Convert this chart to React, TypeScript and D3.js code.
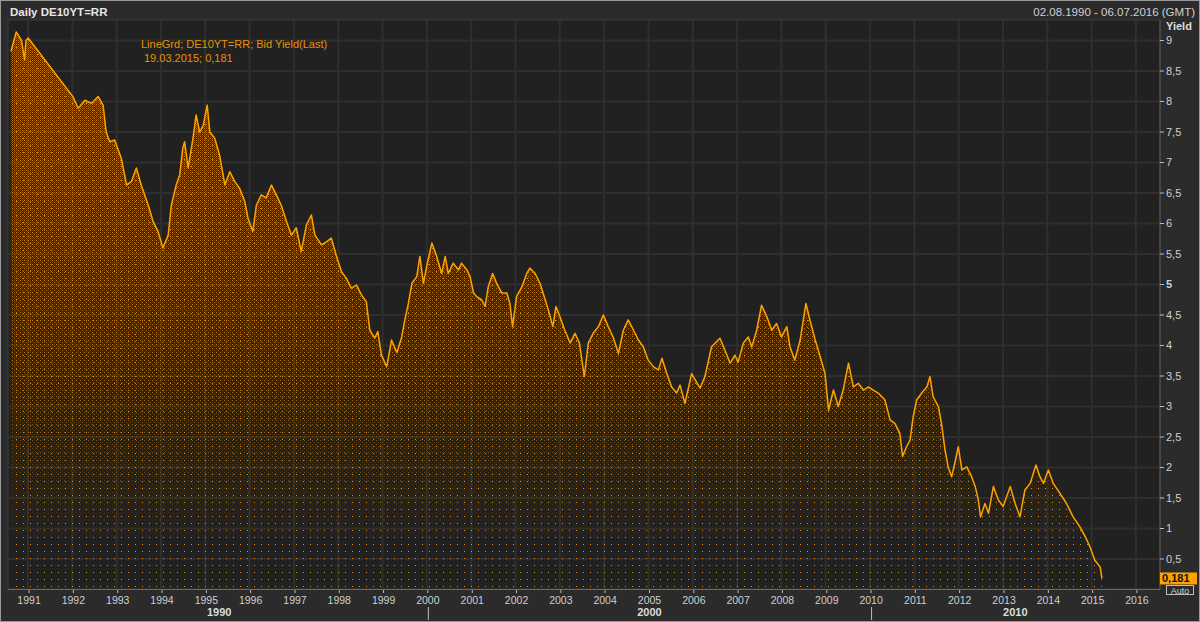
import React from "react";
import * as d3 from "d3";

// ---- data (decimal year, yield %) ----
const years: number[] = [
  1990.59, 1990.71, 1990.83, 1990.9, 1990.93, 1990.98,
  1991.99, 1992.11, 1992.26, 1992.41, 1992.56, 1992.67, 1992.74, 1992.82, 1992.93,
  1993.08, 1993.2, 1993.31, 1993.42, 1993.53, 1993.69, 1993.8, 1993.91,
  1994.02, 1994.14, 1994.21, 1994.32, 1994.4, 1994.47, 1994.51, 1994.59, 1994.7, 1994.77, 1994.85, 1994.93,
  1995.02, 1995.08, 1995.19, 1995.3, 1995.42, 1995.53, 1995.64, 1995.75, 1995.87, 1995.94,
  1996.05, 1996.13, 1996.24, 1996.35, 1996.47, 1996.58, 1996.69, 1996.81, 1996.92,
  1997.03, 1997.14, 1997.26, 1997.37, 1997.45, 1997.6, 1997.71, 1997.82, 1997.93,
  1998.05, 1998.16, 1998.27, 1998.39, 1998.5, 1998.61, 1998.69, 1998.8, 1998.87, 1998.95,
  1999.07, 1999.18, 1999.3, 1999.41, 1999.48, 1999.56, 1999.64, 1999.75, 1999.82, 1999.9, 1999.97,
  2000.09, 2000.2, 2000.31, 2000.39, 2000.46, 2000.57, 2000.69, 2000.76, 2000.88, 2000.95,
  2001.03, 2001.1, 2001.21, 2001.29, 2001.36, 2001.46, 2001.55, 2001.67, 2001.78, 2001.85, 2001.91,
  2002.0, 2002.12, 2002.23, 2002.3, 2002.42, 2002.53, 2002.6, 2002.72, 2002.82, 2002.89, 2002.98,
  2003.09, 2003.21, 2003.32, 2003.42, 2003.53, 2003.62, 2003.73, 2003.85, 2003.96,
  2004.07, 2004.18, 2004.3, 2004.41, 2004.52, 2004.64, 2004.75, 2004.86, 2004.97,
  2005.09, 2005.2, 2005.28, 2005.39, 2005.5, 2005.61, 2005.69, 2005.8, 2005.95,
  2006.14, 2006.25, 2006.4, 2006.59, 2006.7, 2006.82, 2006.93,
  2007.0, 2007.12, 2007.23, 2007.31, 2007.42, 2007.53, 2007.65, 2007.76, 2007.87, 2007.98,
  2008.1, 2008.17, 2008.28, 2008.4, 2008.53, 2008.62, 2008.74, 2008.85, 2008.96,
  2009.04, 2009.15, 2009.26, 2009.37, 2009.49, 2009.6, 2009.71, 2009.83, 2009.94,
  2010.05, 2010.16, 2010.31, 2010.43, 2010.54, 2010.65, 2010.71, 2010.8, 2010.88, 2010.95,
  2011.03, 2011.14, 2011.26, 2011.33, 2011.4, 2011.52, 2011.59, 2011.67, 2011.74, 2011.82, 2011.89, 2011.97,
  2012.05, 2012.16, 2012.27, 2012.35, 2012.42, 2012.47, 2012.57, 2012.65, 2012.76, 2012.87, 2012.98,
  2013.14, 2013.25, 2013.36, 2013.47, 2013.59, 2013.72, 2013.81, 2013.89,
  2014.0, 2014.11, 2014.26, 2014.41, 2014.56, 2014.71, 2014.83, 2014.94,
  2015.05, 2015.17, 2015.21,
];
const yields: number[] = [
  8.82, 9.14, 9.0, 8.68, 9.0, 9.04,
  8.08, 7.89, 8.02, 7.97, 8.08, 7.94, 7.5, 7.34, 7.37,
  7.07, 6.63, 6.69, 6.91, 6.63, 6.3, 6.03, 5.87,
  5.6, 5.81, 6.3, 6.63, 6.8, 7.24, 7.34, 6.91, 7.4, 7.78, 7.5, 7.61,
  7.94, 7.5, 7.4, 7.12, 6.63, 6.85, 6.69, 6.58, 6.36, 6.09,
  5.87, 6.3, 6.47, 6.42, 6.63, 6.47, 6.3, 6.03, 5.81,
  5.93, 5.54, 5.98, 6.14, 5.81, 5.65, 5.7, 5.76, 5.48,
  5.21, 5.1, 4.94, 4.99, 4.83, 4.72, 4.25, 4.12, 4.23, 3.85,
  3.65, 4.09, 3.88, 4.14, 4.42, 4.69, 5.02, 5.13, 5.46, 5.02, 5.29,
  5.68, 5.46, 5.18, 5.46, 5.18, 5.35, 5.24, 5.35, 5.24, 5.13,
  4.86, 4.8, 4.75, 4.64, 4.96, 5.18, 5.02, 4.86, 4.86, 4.69, 4.31,
  4.8, 4.96, 5.18, 5.27, 5.18, 5.02, 4.86, 4.58, 4.31, 4.64, 4.47,
  4.25, 4.04, 4.2, 4.04, 3.49, 4.04, 4.2, 4.31, 4.5,
  4.31, 4.14, 3.87, 4.25, 4.42, 4.25, 4.09, 3.98, 3.76,
  3.65, 3.6, 3.79, 3.54, 3.32, 3.22, 3.35, 3.05, 3.54,
  3.3, 3.49, 3.98, 4.12, 3.93, 3.71, 3.84,
  3.73, 4.04, 4.14, 3.98, 4.25, 4.66, 4.47, 4.25, 4.36, 4.14,
  4.31, 3.98, 3.76, 4.09, 4.69, 4.42, 4.09, 3.82, 3.54,
  2.94, 3.27, 3.0, 3.27, 3.71, 3.32, 3.38, 3.27, 3.32,
  3.27, 3.22, 3.11, 2.78, 2.72, 2.56, 2.18, 2.34, 2.45, 2.83,
  3.11, 3.22, 3.32, 3.49, 3.16, 3.0, 2.72, 2.29, 2.01, 1.85, 2.07, 2.34,
  1.96, 2.01, 1.85, 1.69, 1.47, 1.19, 1.41, 1.25, 1.69, 1.47, 1.36,
  1.69, 1.41, 1.19, 1.63, 1.74, 2.04, 1.85, 1.74,
  1.96, 1.74, 1.58, 1.41, 1.19, 1.03, 0.87, 0.7,
  0.48, 0.37, 0.181,
];
const yTicks: number[] = [0.5, 1, 1.5, 2, 2.5, 3, 3.5, 4, 4.5, 5, 5.5, 6, 6.5, 7, 7.5, 8, 8.5, 9];
const decadeLabels: string[] = ["1990", "2000", "2010"];
const titleText = "Daily DE10YT=RR";
const rangeText = "02.08.1990 - 06.07.2016 (GMT)";
const legendLine1 = "LineGrd; DE10YT=RR; Bid Yield(Last)";
const legendLine2 = "19.03.2015; 0,181";
const lastLabel = "0,181";

const toDate = (t: number) => {
  const y = Math.floor(t);
  const a = new Date(y, 0, 1).getTime();
  const b = new Date(y + 1, 0, 1).getTime();
  return new Date(a + (t - y) * (b - a));
};
const fmt = (v: number) => String(v).replace(".", ",");

export default function App() {
  const W = 1200, H = 622;
  const left = 8, right = 1160, top = 20, bottom = 589;
  const x = d3.scaleTime().domain([new Date(1990, 7, 2), new Date(2016, 6, 6)]).range([10.6, 1159.6]);
  const y = d3.scaleLinear().domain([0, 9]).range([589.5, 40.5]);
  const data = years.map((t, i) => ({ d: toDate(t), v: yields[i] }));
  const line = d3.line<{ d: Date; v: number }>().x((p) => x(p.d)).y((p) => y(p.v));
  const area = d3.area<{ d: Date; v: number }>().x((p) => x(p.d)).y0(bottom).y1((p) => y(p.v));
  const yearTicks = d3.timeYear.range(new Date(1991, 0, 1), new Date(2017, 0, 1));
  const decadeBounds = [new Date(1990, 7, 2), new Date(2000, 0, 1), new Date(2010, 0, 1), new Date(2016, 6, 6)];
  const font = "'Liberation Sans', Arial, sans-serif";
  const lastV = yields[yields.length - 1];
  const areaPath = area(data) || "";

  return (
    <div style={{ position: "fixed", left: 0, top: 0 }}>
      <svg width={W} height={H} style={{ display: "block" }}>
        <defs>
          <pattern id="p2" width={2} height={2} patternUnits="userSpaceOnUse">
            <rect x={0} y={0} width={1} height={1} fill="#d88400" />
            <rect x={1} y={1} width={1} height={1} fill="#a86400" />
          </pattern>
          <pattern id="p4" width={4} height={4} patternUnits="userSpaceOnUse">
            <rect x={0} y={0} width={1} height={1} fill="#e08a00" />
            <rect x={2} y={2} width={1} height={1} fill="#b06800" />
          </pattern>
          <pattern id="p7" width={7} height={7} patternUnits="userSpaceOnUse" x={2} y={5}>
            <rect x={0} y={0} width={1} height={1} fill="#f09000" />
          </pattern>
          <linearGradient id="g2" gradientUnits="userSpaceOnUse" x1={0} y1={30} x2={0} y2={430}>
            <stop offset="0" stopColor="#fff" stopOpacity={0.85} />
            <stop offset="0.45" stopColor="#fff" stopOpacity={0.5} />
            <stop offset="1" stopColor="#fff" stopOpacity={0} />
          </linearGradient>
          <linearGradient id="g4" gradientUnits="userSpaceOnUse" x1={0} y1={200} x2={0} y2={540}>
            <stop offset="0" stopColor="#fff" stopOpacity={1} />
            <stop offset="0.5" stopColor="#fff" stopOpacity={0.8} />
            <stop offset="1" stopColor="#fff" stopOpacity={0} />
          </linearGradient>
          <mask id="m2" maskUnits="userSpaceOnUse" x={0} y={0} width={W} height={H}>
            <rect x={0} y={0} width={W} height={H} fill="url(#g2)" />
          </mask>
          <mask id="m4" maskUnits="userSpaceOnUse" x={0} y={0} width={W} height={H}>
            <rect x={0} y={0} width={W} height={H} fill="url(#g4)" />
          </mask>
          <clipPath id="plotClip">
            <rect x={left} y={top} width={right - left} height={bottom - top} />
          </clipPath>
        </defs>

        {/* frame */}
        <rect x={0} y={0} width={W} height={H} fill="#2b2b2b" />
        <rect x={0.5} y={0.5} width={W - 1} height={H - 1} fill="none" stroke="#9a9a9a" />
        <text x={10} y={16} fill="#e6e6e6" fontFamily={font} fontSize={11.5} fontWeight="bold">{titleText}</text>
        <text x={1195} y={16} fill="#cfcfcf" fontFamily={font} fontSize={11.5} textAnchor="end">{rangeText}</text>

        {/* plot background */}
        <rect x={left} y={top} width={right - left} height={bottom - top} fill="#212121" stroke="#3c3c3c" />
        <g>
          {yTicks.map((t) => (
            <line key={"h" + t} x1={left} x2={right} y1={y(t)} y2={y(t)} stroke="#2f2f2f" strokeWidth={2} />
          ))}
          {yearTicks.map((d) => (
            <line key={"v" + d.getFullYear()} x1={x(d) - 1} x2={x(d) - 1} y1={top} y2={bottom} stroke="#2f2f2f" strokeWidth={2} />
          ))}
        </g>

        {/* area + line */}
        <g clipPath="url(#plotClip)">
          <path d={areaPath} fill="url(#p7)" />
          <path d={areaPath} fill="url(#p4)" mask="url(#m4)" />
          <path d={areaPath} fill="url(#p2)" mask="url(#m2)" />
          <path d={line(data) || ""} fill="none" stroke="#ffa200" strokeWidth={1.5} strokeLinejoin="round" />
        </g>

        {/* legend */}
        <text x={141} y={48} fill="#e69200" fontFamily={font} fontSize={11}>{legendLine1}</text>
        <text x={144} y={62} fill="#e69200" fontFamily={font} fontSize={11}>{legendLine2}</text>

        {/* y axis */}
        <line x1={right} x2={right} y1={top} y2={bottom} stroke="#5a5a5a" />
        <text x={1166} y={30} fill="#dcdcdc" fontFamily={font} fontSize={11} fontWeight="bold">Yield</text>
        {yTicks.map((t) => (
          <g key={"yt" + t}>
            <line x1={right} x2={right + 4} y1={y(t)} y2={y(t)} stroke="#bdbdbd" />
            <text x={1166} y={y(t)} dy="0.35em" fill="#cfcfcf" fontFamily={font} fontSize={11}
              fontWeight={t === 5 ? "bold" : "normal"}>{fmt(t)}</text>
          </g>
        ))}
        <rect x={1166.5} y={585.5} width={27} height={9} fill="none" stroke="#bdbdbd" />
        <text x={1180} y={593.5} fill="#cfcfcf" fontFamily={font} fontSize={9} textAnchor="middle">Auto</text>
        <rect x={right} y={y(lastV) - 6} width={37} height={12} fill="#ffa200" />
        <text x={1162} y={y(lastV)} dy="0.36em" fill="#111" fontFamily={font} fontSize={11} fontWeight="bold">{lastLabel}</text>

        {/* x axis */}
        <line x1={left} x2={right} y1={bottom + 0.5} y2={bottom + 0.5} stroke="#6a6a6a" />
        {yearTicks.map((d) => (
          <g key={"xt" + d.getFullYear()}>
            <line x1={x(d)} x2={x(d)} y1={bottom + 1} y2={bottom + 4} stroke="#bdbdbd" />
            <text x={x(d)} y={604} fill="#cfcfcf" fontFamily={font} fontSize={10.5} textAnchor="middle">{d.getFullYear()}</text>
          </g>
        ))}
        {decadeLabels.map((lab, i) => (
          <text key={lab} x={(x(decadeBounds[i]) + x(decadeBounds[i + 1])) / 2} y={616} fill="#dcdcdc"
            fontFamily={font} fontSize={11} fontWeight="bold" textAnchor="middle">{lab}</text>
        ))}
        {[1, 2].map((i) => (
          <line key={"dsep" + i} x1={x(decadeBounds[i]) + 0.5} x2={x(decadeBounds[i]) + 0.5} y1={607} y2={620} stroke="#bdbdbd" />
        ))}
      </svg>
    </div>
  );
}
